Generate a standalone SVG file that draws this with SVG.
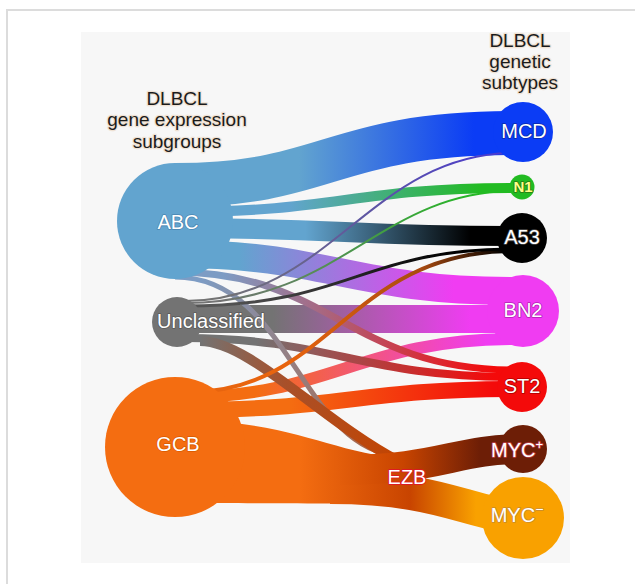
<svg xmlns="http://www.w3.org/2000/svg" width="635" height="584" viewBox="0 0 635 584">
<style>
text{font-family:"Liberation Sans",Arial,sans-serif;font-size:20px;text-anchor:middle}
.hdr{font-size:19px;fill:#1b1b1b;stroke:#efe2d4;stroke-width:2.5;paint-order:stroke;stroke-linejoin:round}
.lbl{fill:#fff;stroke-width:1.6;paint-order:stroke;stroke-linejoin:round}
.band{fill:none;stroke-linecap:butt}
</style>
<defs>
<linearGradient id="gAM" gradientUnits="userSpaceOnUse" x1="190" y1="0" x2="520" y2="0"><stop offset="0.33" stop-color="#62a4cf"/><stop offset="0.86" stop-color="#0b3cf5"/></linearGradient>
<linearGradient id="gAN" gradientUnits="userSpaceOnUse" x1="190" y1="0" x2="520" y2="0"><stop offset="0.3" stop-color="#62a4cf"/><stop offset="0.88" stop-color="#22bb22"/></linearGradient>
<linearGradient id="gAA" gradientUnits="userSpaceOnUse" x1="190" y1="0" x2="520" y2="0"><stop offset="0.35" stop-color="#62a4cf"/><stop offset="0.85" stop-color="#000"/></linearGradient>
<linearGradient id="gAB" gradientUnits="userSpaceOnUse" x1="190" y1="0" x2="520" y2="0"><stop offset="0.15" stop-color="#62a4cf"/><stop offset="0.8" stop-color="#f03cf2"/></linearGradient>
<linearGradient id="gAS" gradientUnits="userSpaceOnUse" x1="190" y1="0" x2="520" y2="0"><stop offset="0.1" stop-color="#7d9cc4"/><stop offset="0.92" stop-color="#f40a0a"/></linearGradient>
<linearGradient id="gAE" gradientUnits="userSpaceOnUse" x1="190" y1="0" x2="400" y2="0"><stop offset="0.05" stop-color="#7d9cc4"/><stop offset="0.95" stop-color="#b0603a"/></linearGradient>
<linearGradient id="gUM" gradientUnits="userSpaceOnUse" x1="190" y1="0" x2="520" y2="0"><stop offset="0.1" stop-color="#737373"/><stop offset="0.95" stop-color="#4a3ad0"/></linearGradient>
<linearGradient id="gUN" gradientUnits="userSpaceOnUse" x1="190" y1="0" x2="520" y2="0"><stop offset="0.1" stop-color="#737373"/><stop offset="0.9" stop-color="#22bb22"/></linearGradient>
<linearGradient id="gUA" gradientUnits="userSpaceOnUse" x1="190" y1="0" x2="520" y2="0"><stop offset="0.1" stop-color="#555"/><stop offset="0.8" stop-color="#000"/></linearGradient>
<linearGradient id="gUB" gradientUnits="userSpaceOnUse" x1="190" y1="0" x2="520" y2="0"><stop offset="0.25" stop-color="#737373"/><stop offset="0.85" stop-color="#f03cf2"/></linearGradient>
<linearGradient id="gUS" gradientUnits="userSpaceOnUse" x1="190" y1="0" x2="520" y2="0"><stop offset="0.2" stop-color="#737373"/><stop offset="0.92" stop-color="#f40a0a"/></linearGradient>
<linearGradient id="gUE" gradientUnits="userSpaceOnUse" x1="190" y1="0" x2="400" y2="0"><stop offset="0.05" stop-color="#737373"/><stop offset="0.45" stop-color="#a8502a"/><stop offset="1" stop-color="#c44400"/></linearGradient>
<linearGradient id="gGA" gradientUnits="userSpaceOnUse" x1="190" y1="0" x2="520" y2="0"><stop offset="0.3" stop-color="#e8640e"/><stop offset="0.7" stop-color="#a84a10"/><stop offset="0.95" stop-color="#000"/></linearGradient>
<linearGradient id="gGB" gradientUnits="userSpaceOnUse" x1="190" y1="0" x2="520" y2="0"><stop offset="0.2" stop-color="#f46d11"/><stop offset="0.9" stop-color="#f03cf2"/></linearGradient>
<linearGradient id="gGS" gradientUnits="userSpaceOnUse" x1="190" y1="0" x2="520" y2="0"><stop offset="0.3" stop-color="#f46d11"/><stop offset="0.92" stop-color="#f40a0a"/></linearGradient>
<linearGradient id="gGE" gradientUnits="userSpaceOnUse" x1="300" y1="0" x2="520" y2="0"><stop offset="0" stop-color="#f46d11"/><stop offset="0.47" stop-color="#c84400"/></linearGradient>
<linearGradient id="gEP" gradientUnits="userSpaceOnUse" x1="300" y1="0" x2="520" y2="0"><stop offset="0" stop-color="#f46d11"/><stop offset="0.47" stop-color="#c84400"/><stop offset="0.82" stop-color="#6d1e06"/></linearGradient>
<linearGradient id="gEM" gradientUnits="userSpaceOnUse" x1="300" y1="0" x2="520" y2="0"><stop offset="0" stop-color="#f46d11"/><stop offset="0.5" stop-color="#c84400"/><stop offset="0.8" stop-color="#f9a100"/></linearGradient>
</defs>
<rect x="7" y="10" width="700" height="700" fill="#fff" stroke="#dcdcdc" stroke-width="2"/>
<rect x="81" y="32" width="489" height="531" fill="#f7f7f7"/>
<g id="headers">
<text class="hdr" x="177" y="105">DLBCL</text>
<text class="hdr" x="177" y="126.3">gene expression</text>
<text class="hdr" x="177" y="147.6">subgroups</text>
<text class="hdr" x="520" y="46.5">DLBCL</text>
<text class="hdr" x="520" y="67.8">genetic</text>
<text class="hdr" x="520" y="89">subtypes</text>
</g>
<g id="connectors">
<path class="band" d="M175,185 C330,185 330,133 515,133" stroke="url(#gAM)" stroke-width="44"/>
<path class="band" d="M175,212 C340,212 350,188 515,188" stroke="url(#gAN)" stroke-width="10"/>
<path class="band" d="M175,228 C340,228 350,236 515,236" stroke="url(#gAA)" stroke-width="20"/>
<path class="band" d="M177,319 C340,319 350,319 515,319" stroke="url(#gUB)" stroke-width="28"/>
<path class="band" d="M175,254 C330,254 350,291 515,291" stroke="url(#gAB)" stroke-width="28"/>
<path class="band" d="M185,410 C340,410 360,389 515,389" stroke="url(#gGS)" stroke-width="16"/>
<path class="band" d="M185,397 C330,397 360,339 515,339" stroke="url(#gGB)" stroke-width="12"/>
<path d="M175,420 C300,420 330,456 420,460 L420,504 C330,504 300,503 175,503 Z" fill="url(#gGE)"/>
<path class="band" d="M175,272 C330,272 350,370 515,370" stroke="url(#gAS)" stroke-width="7"/>
<path class="band" d="M185,338 C330,338 360,377 515,377" stroke="url(#gUS)" stroke-width="8"/>
<path class="band" d="M175,277 C290,277 300,450 400,456" stroke="url(#gAE)" stroke-width="5"/>
<path class="band" d="M200,341 C250,341 320,420 400,462" stroke="url(#gUE)" stroke-width="10"/>
<path class="band" d="M330,487 C445,487 470,516 523,516" stroke="url(#gEM)" stroke-width="34"/>
<path class="band" d="M340,470 C440,470 455,449 523,449" stroke="url(#gEP)" stroke-width="30"/>
<path class="band" d="M190,392 C330,392 350,250 515,251" stroke="url(#gGA)" stroke-width="4"/>
<path class="band" d="M185,301 C330,301 370,153 515,153" stroke="url(#gUM)" stroke-width="2"/>
<path class="band" d="M185,303 C340,303 380,191 515,191" stroke="url(#gUN)" stroke-width="2"/>
<path class="band" d="M185,306 C350,306 360,249 515,249" stroke="url(#gUA)" stroke-width="3"/>
</g>
<g id="node-ABC"><circle cx="175" cy="221" r="58" fill="#62a4cf"/><text class="lbl" x="178" y="229" stroke="#4a86b2" stroke-width="1">ABC</text></g>
<g id="node-Unclassified"><circle cx="177" cy="322" r="25" fill="#737373"/><text class="lbl" x="211" y="328" stroke="#5a5a5a">Unclassified</text></g>
<g id="node-GCB"><circle cx="175" cy="447" r="70" fill="#f46d11"/><text class="lbl" x="178" y="451" stroke="#d85a00" stroke-width="1">GCB</text></g>
<g id="node-MCD"><circle cx="523" cy="132" r="30" fill="#0b3cf5"/><text class="lbl" x="524" y="138" stroke="#0a28a8">MCD</text></g>
<g id="node-N1"><circle cx="522" cy="187" r="12.5" fill="#22bb22"/><text class="lbl" x="523" y="192" style="font-size:15px;font-weight:bold;fill:#ffff8a" stroke="#2a7a10" stroke-width="1.2">N1</text></g>
<g id="node-A53"><circle cx="522" cy="238" r="25" fill="#000"/><text class="lbl" x="522" y="244" stroke="#444">A53</text></g>
<g id="node-BN2"><circle cx="523" cy="311" r="36" fill="#f03cf2"/><text class="lbl" x="523" y="317" stroke="#b024b4">BN2</text></g>
<g id="node-ST2"><circle cx="522" cy="387" r="25" fill="#f40a0a"/><text class="lbl" x="522" y="393" stroke="#b00000">ST2</text></g>
<g id="node-MYCplus"><circle cx="523" cy="449" r="24" fill="#6d1e06"/><text class="lbl" x="517" y="457" stroke="#c0404a">MYC<tspan dy="-8" style="font-size:13px">+</tspan></text></g>
<g id="node-MYCminus"><circle cx="523" cy="518" r="41" fill="#f9a100"/><text class="lbl" x="517" y="522" stroke="#c88a30">MYC<tspan dy="-8" style="font-size:14px">−</tspan></text></g>
<g id="node-EZB"><text class="lbl" x="407" y="484" stroke="#e0102a" stroke-width="2.2">EZB</text></g>
</svg>
